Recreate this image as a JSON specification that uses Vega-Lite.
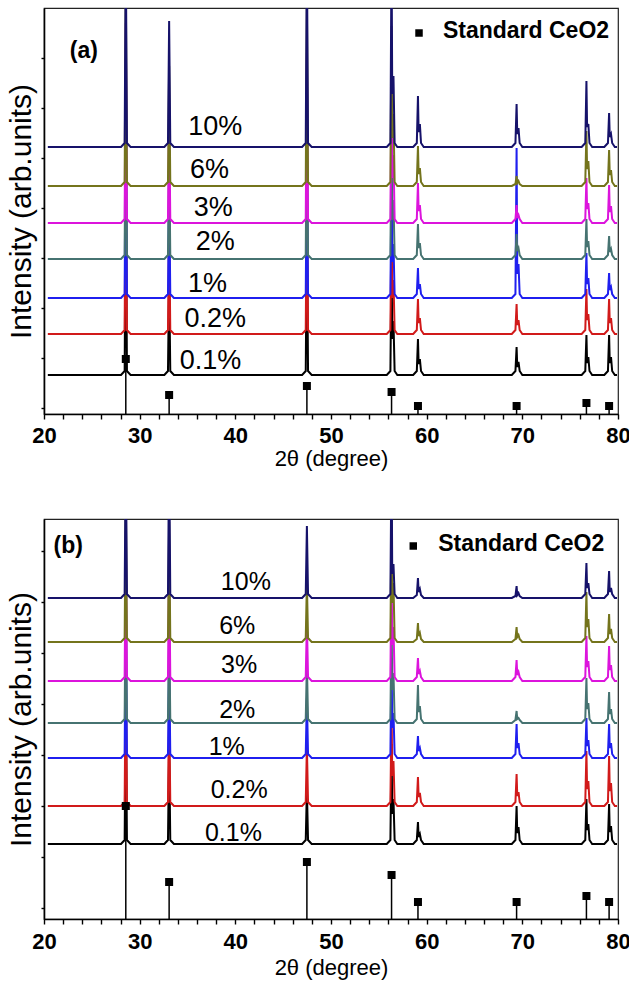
{
"$schema":"https://vega.github.io/schema/vega-lite/v6.json",
"padding":{"left":5,"top":7,"right":5,"bottom":5},
"spacing":48,
"config":{"font":"Liberation Sans","view":{"stroke":"#222","strokeWidth":1.2},
"axis":{"grid":false,"domainColor":"#000","domainWidth":1.6,"tickColor":"#000","tickWidth":1.4,"labelColor":"#000","titleColor":"#000"}},
"datasets":{
"a":[
{"s":"0.1%","x":20.4,"y":39},{"s":"0.1%","x":28.05,"y":39},{"s":"0.1%","x":28.43,"y":43},{"s":"0.1%","x":28.55,"y":239},{"s":"0.1%","x":28.67,"y":43},{"s":"0.1%","x":29.05,"y":39},{"s":"0.1%","x":32.58,"y":39},{"s":"0.1%","x":32.96,"y":43},{"s":"0.1%","x":33.08,"y":139},{"s":"0.1%","x":33.2,"y":43},{"s":"0.1%","x":33.58,"y":39},{"s":"0.1%","x":46.98,"y":39},{"s":"0.1%","x":47.36,"y":43},{"s":"0.1%","x":47.48,"y":189},{"s":"0.1%","x":47.6,"y":43},{"s":"0.1%","x":47.98,"y":39},{"s":"0.1%","x":55.83,"y":39},{"s":"0.1%","x":56.21,"y":43},{"s":"0.1%","x":56.33,"y":159},{"s":"0.1%","x":56.4,"y":75},{"s":"0.1%","x":56.53,"y":93},{"s":"0.1%","x":56.65,"y":43},{"s":"0.1%","x":56.93,"y":39},{"s":"0.1%","x":58.59,"y":39},{"s":"0.1%","x":58.97,"y":43},{"s":"0.1%","x":59.09,"y":75},{"s":"0.1%","x":59.16,"y":50},{"s":"0.1%","x":59.29,"y":55},{"s":"0.1%","x":59.41,"y":43},{"s":"0.1%","x":59.69,"y":39},{"s":"0.1%","x":68.9,"y":39},{"s":"0.1%","x":69.28,"y":43},{"s":"0.1%","x":69.4,"y":67},{"s":"0.1%","x":69.47,"y":47},{"s":"0.1%","x":69.6,"y":52},{"s":"0.1%","x":69.72,"y":43},{"s":"0.1%","x":70,"y":39},{"s":"0.1%","x":76.2,"y":39},{"s":"0.1%","x":76.58,"y":43},{"s":"0.1%","x":76.7,"y":79},{"s":"0.1%","x":76.77,"y":51},{"s":"0.1%","x":76.9,"y":57},{"s":"0.1%","x":77.02,"y":43},{"s":"0.1%","x":77.3,"y":39},{"s":"0.1%","x":78.57,"y":39},{"s":"0.1%","x":78.95,"y":43},{"s":"0.1%","x":79.07,"y":79},{"s":"0.1%","x":79.14,"y":51},{"s":"0.1%","x":79.27,"y":57},{"s":"0.1%","x":79.39,"y":43},{"s":"0.1%","x":79.67,"y":39},{"s":"0.1%","x":79.9,"y":39},
{"s":"0.2%","x":20.4,"y":80},{"s":"0.2%","x":28.05,"y":80},{"s":"0.2%","x":28.43,"y":84},{"s":"0.2%","x":28.55,"y":280},{"s":"0.2%","x":28.67,"y":84},{"s":"0.2%","x":29.05,"y":80},{"s":"0.2%","x":32.58,"y":80},{"s":"0.2%","x":32.96,"y":84},{"s":"0.2%","x":33.08,"y":190},{"s":"0.2%","x":33.2,"y":84},{"s":"0.2%","x":33.58,"y":80},{"s":"0.2%","x":46.98,"y":80},{"s":"0.2%","x":47.36,"y":84},{"s":"0.2%","x":47.48,"y":230},{"s":"0.2%","x":47.6,"y":84},{"s":"0.2%","x":47.98,"y":80},{"s":"0.2%","x":55.83,"y":80},{"s":"0.2%","x":56.21,"y":84},{"s":"0.2%","x":56.33,"y":200},{"s":"0.2%","x":56.4,"y":116},{"s":"0.2%","x":56.53,"y":134},{"s":"0.2%","x":56.65,"y":84},{"s":"0.2%","x":56.93,"y":80},{"s":"0.2%","x":58.59,"y":80},{"s":"0.2%","x":58.97,"y":84},{"s":"0.2%","x":59.09,"y":115},{"s":"0.2%","x":59.16,"y":91},{"s":"0.2%","x":59.29,"y":96},{"s":"0.2%","x":59.41,"y":84},{"s":"0.2%","x":59.69,"y":80},{"s":"0.2%","x":68.9,"y":80},{"s":"0.2%","x":69.28,"y":84},{"s":"0.2%","x":69.4,"y":110},{"s":"0.2%","x":69.47,"y":89},{"s":"0.2%","x":69.6,"y":94},{"s":"0.2%","x":69.72,"y":84},{"s":"0.2%","x":70,"y":80},{"s":"0.2%","x":76.2,"y":80},{"s":"0.2%","x":76.58,"y":84},{"s":"0.2%","x":76.7,"y":125},{"s":"0.2%","x":76.77,"y":94},{"s":"0.2%","x":76.9,"y":100},{"s":"0.2%","x":77.02,"y":84},{"s":"0.2%","x":77.3,"y":80},{"s":"0.2%","x":78.57,"y":80},{"s":"0.2%","x":78.95,"y":84},{"s":"0.2%","x":79.07,"y":115},{"s":"0.2%","x":79.14,"y":91},{"s":"0.2%","x":79.27,"y":96},{"s":"0.2%","x":79.39,"y":84},{"s":"0.2%","x":79.67,"y":80},{"s":"0.2%","x":79.9,"y":80},
{"s":"1%","x":20.4,"y":116},{"s":"1%","x":28.05,"y":116},{"s":"1%","x":28.43,"y":120},{"s":"1%","x":28.55,"y":316},{"s":"1%","x":28.67,"y":120},{"s":"1%","x":29.05,"y":116},{"s":"1%","x":32.58,"y":116},{"s":"1%","x":32.96,"y":120},{"s":"1%","x":33.08,"y":226},{"s":"1%","x":33.2,"y":120},{"s":"1%","x":33.58,"y":116},{"s":"1%","x":46.98,"y":116},{"s":"1%","x":47.36,"y":120},{"s":"1%","x":47.48,"y":266},{"s":"1%","x":47.6,"y":120},{"s":"1%","x":47.98,"y":116},{"s":"1%","x":55.83,"y":116},{"s":"1%","x":56.21,"y":120},{"s":"1%","x":56.33,"y":236},{"s":"1%","x":56.4,"y":152},{"s":"1%","x":56.53,"y":170},{"s":"1%","x":56.65,"y":120},{"s":"1%","x":56.93,"y":116},{"s":"1%","x":58.59,"y":116},{"s":"1%","x":58.97,"y":120},{"s":"1%","x":59.09,"y":146},{"s":"1%","x":59.16,"y":125},{"s":"1%","x":59.29,"y":130},{"s":"1%","x":59.41,"y":120},{"s":"1%","x":59.69,"y":116},{"s":"1%","x":68.9,"y":116},{"s":"1%","x":69.28,"y":120},{"s":"1%","x":69.4,"y":266},{"s":"1%","x":69.47,"y":140},{"s":"1%","x":69.6,"y":150},{"s":"1%","x":69.72,"y":120},{"s":"1%","x":70,"y":116},{"s":"1%","x":76.2,"y":116},{"s":"1%","x":76.58,"y":120},{"s":"1%","x":76.7,"y":161},{"s":"1%","x":76.77,"y":130},{"s":"1%","x":76.9,"y":136},{"s":"1%","x":77.02,"y":120},{"s":"1%","x":77.3,"y":116},{"s":"1%","x":78.57,"y":116},{"s":"1%","x":78.95,"y":120},{"s":"1%","x":79.07,"y":141},{"s":"1%","x":79.14,"y":124},{"s":"1%","x":79.27,"y":127},{"s":"1%","x":79.39,"y":120},{"s":"1%","x":79.67,"y":116},{"s":"1%","x":79.9,"y":116},
{"s":"2%","x":20.4,"y":155},{"s":"2%","x":28.05,"y":155},{"s":"2%","x":28.43,"y":159},{"s":"2%","x":28.55,"y":355},{"s":"2%","x":28.67,"y":159},{"s":"2%","x":29.05,"y":155},{"s":"2%","x":32.58,"y":155},{"s":"2%","x":32.96,"y":159},{"s":"2%","x":33.08,"y":265},{"s":"2%","x":33.2,"y":159},{"s":"2%","x":33.58,"y":155},{"s":"2%","x":46.98,"y":155},{"s":"2%","x":47.36,"y":159},{"s":"2%","x":47.48,"y":315},{"s":"2%","x":47.6,"y":159},{"s":"2%","x":47.98,"y":155},{"s":"2%","x":55.83,"y":155},{"s":"2%","x":56.21,"y":159},{"s":"2%","x":56.33,"y":285},{"s":"2%","x":56.4,"y":194},{"s":"2%","x":56.53,"y":214},{"s":"2%","x":56.65,"y":159},{"s":"2%","x":56.93,"y":155},{"s":"2%","x":58.59,"y":155},{"s":"2%","x":58.97,"y":159},{"s":"2%","x":59.09,"y":190},{"s":"2%","x":59.16,"y":166},{"s":"2%","x":59.29,"y":171},{"s":"2%","x":59.41,"y":159},{"s":"2%","x":59.69,"y":155},{"s":"2%","x":68.9,"y":155},{"s":"2%","x":69.28,"y":159},{"s":"2%","x":69.4,"y":180},{"s":"2%","x":69.47,"y":163},{"s":"2%","x":69.6,"y":166},{"s":"2%","x":69.72,"y":159},{"s":"2%","x":70,"y":155},{"s":"2%","x":76.2,"y":155},{"s":"2%","x":76.58,"y":159},{"s":"2%","x":76.7,"y":195},{"s":"2%","x":76.77,"y":167},{"s":"2%","x":76.9,"y":173},{"s":"2%","x":77.02,"y":159},{"s":"2%","x":77.3,"y":155},{"s":"2%","x":78.57,"y":155},{"s":"2%","x":78.95,"y":159},{"s":"2%","x":79.07,"y":178},{"s":"2%","x":79.14,"y":162},{"s":"2%","x":79.27,"y":165},{"s":"2%","x":79.39,"y":159},{"s":"2%","x":79.67,"y":155},{"s":"2%","x":79.9,"y":155},
{"s":"3%","x":20.4,"y":191},{"s":"3%","x":28.05,"y":191},{"s":"3%","x":28.43,"y":195},{"s":"3%","x":28.55,"y":391},{"s":"3%","x":28.67,"y":195},{"s":"3%","x":29.05,"y":191},{"s":"3%","x":32.58,"y":191},{"s":"3%","x":32.96,"y":195},{"s":"3%","x":33.08,"y":301},{"s":"3%","x":33.2,"y":195},{"s":"3%","x":33.58,"y":191},{"s":"3%","x":46.98,"y":191},{"s":"3%","x":47.36,"y":195},{"s":"3%","x":47.48,"y":361},{"s":"3%","x":47.6,"y":195},{"s":"3%","x":47.98,"y":191},{"s":"3%","x":55.83,"y":191},{"s":"3%","x":56.21,"y":195},{"s":"3%","x":56.33,"y":341},{"s":"3%","x":56.4,"y":236},{"s":"3%","x":56.53,"y":259},{"s":"3%","x":56.65,"y":195},{"s":"3%","x":56.93,"y":191},{"s":"3%","x":58.59,"y":191},{"s":"3%","x":58.97,"y":195},{"s":"3%","x":59.09,"y":231},{"s":"3%","x":59.16,"y":203},{"s":"3%","x":59.29,"y":209},{"s":"3%","x":59.41,"y":195},{"s":"3%","x":59.69,"y":191},{"s":"3%","x":68.9,"y":191},{"s":"3%","x":69.28,"y":195},{"s":"3%","x":69.4,"y":209},{"s":"3%","x":69.47,"y":196},{"s":"3%","x":69.6,"y":199},{"s":"3%","x":69.72,"y":195},{"s":"3%","x":70,"y":191},{"s":"3%","x":76.2,"y":191},{"s":"3%","x":76.58,"y":195},{"s":"3%","x":76.7,"y":236},{"s":"3%","x":76.77,"y":205},{"s":"3%","x":76.9,"y":211},{"s":"3%","x":77.02,"y":195},{"s":"3%","x":77.3,"y":191},{"s":"3%","x":78.57,"y":191},{"s":"3%","x":78.95,"y":195},{"s":"3%","x":79.07,"y":229},{"s":"3%","x":79.14,"y":202},{"s":"3%","x":79.27,"y":208},{"s":"3%","x":79.39,"y":195},{"s":"3%","x":79.67,"y":191},{"s":"3%","x":79.9,"y":191},
{"s":"6%","x":20.4,"y":228},{"s":"6%","x":28.05,"y":228},{"s":"6%","x":28.43,"y":232},{"s":"6%","x":28.55,"y":428},{"s":"6%","x":28.67,"y":232},{"s":"6%","x":29.05,"y":228},{"s":"6%","x":32.58,"y":228},{"s":"6%","x":32.96,"y":232},{"s":"6%","x":33.08,"y":348},{"s":"6%","x":33.2,"y":232},{"s":"6%","x":33.58,"y":228},{"s":"6%","x":46.98,"y":228},{"s":"6%","x":47.36,"y":232},{"s":"6%","x":47.48,"y":408},{"s":"6%","x":47.6,"y":232},{"s":"6%","x":47.98,"y":228},{"s":"6%","x":55.83,"y":228},{"s":"6%","x":56.21,"y":232},{"s":"6%","x":56.33,"y":388},{"s":"6%","x":56.4,"y":276},{"s":"6%","x":56.53,"y":300},{"s":"6%","x":56.65,"y":232},{"s":"6%","x":56.93,"y":228},{"s":"6%","x":58.59,"y":228},{"s":"6%","x":58.97,"y":232},{"s":"6%","x":59.09,"y":268},{"s":"6%","x":59.16,"y":240},{"s":"6%","x":59.29,"y":246},{"s":"6%","x":59.41,"y":232},{"s":"6%","x":59.69,"y":228},{"s":"6%","x":68.9,"y":228},{"s":"6%","x":69.28,"y":230},{"s":"6%","x":69.4,"y":238},{"s":"6%","x":69.47,"y":231},{"s":"6%","x":69.6,"y":233},{"s":"6%","x":69.72,"y":230},{"s":"6%","x":70,"y":228},{"s":"6%","x":76.2,"y":228},{"s":"6%","x":76.58,"y":232},{"s":"6%","x":76.7,"y":283},{"s":"6%","x":76.77,"y":245},{"s":"6%","x":76.9,"y":253},{"s":"6%","x":77.02,"y":232},{"s":"6%","x":77.3,"y":228},{"s":"6%","x":78.57,"y":228},{"s":"6%","x":78.95,"y":232},{"s":"6%","x":79.07,"y":264},{"s":"6%","x":79.14,"y":239},{"s":"6%","x":79.27,"y":244},{"s":"6%","x":79.39,"y":232},{"s":"6%","x":79.67,"y":228},{"s":"6%","x":79.9,"y":228},
{"s":"10%","x":20.4,"y":267},{"s":"10%","x":28.05,"y":267},{"s":"10%","x":28.43,"y":271},{"s":"10%","x":28.55,"y":467},{"s":"10%","x":28.67,"y":271},{"s":"10%","x":29.05,"y":267},{"s":"10%","x":32.58,"y":267},{"s":"10%","x":32.96,"y":271},{"s":"10%","x":33.08,"y":393},{"s":"10%","x":33.2,"y":271},{"s":"10%","x":33.58,"y":267},{"s":"10%","x":46.98,"y":267},{"s":"10%","x":47.36,"y":271},{"s":"10%","x":47.48,"y":467},{"s":"10%","x":47.6,"y":271},{"s":"10%","x":47.98,"y":267},{"s":"10%","x":55.83,"y":267},{"s":"10%","x":56.21,"y":271},{"s":"10%","x":56.33,"y":467},{"s":"10%","x":56.4,"y":320},{"s":"10%","x":56.53,"y":338},{"s":"10%","x":56.65,"y":271},{"s":"10%","x":56.93,"y":267},{"s":"10%","x":58.59,"y":267},{"s":"10%","x":58.97,"y":271},{"s":"10%","x":59.09,"y":318},{"s":"10%","x":59.16,"y":282},{"s":"10%","x":59.29,"y":290},{"s":"10%","x":59.41,"y":271},{"s":"10%","x":59.69,"y":267},{"s":"10%","x":68.9,"y":267},{"s":"10%","x":69.28,"y":271},{"s":"10%","x":69.4,"y":310},{"s":"10%","x":69.47,"y":280},{"s":"10%","x":69.6,"y":286},{"s":"10%","x":69.72,"y":271},{"s":"10%","x":70,"y":267},{"s":"10%","x":76.2,"y":267},{"s":"10%","x":76.58,"y":271},{"s":"10%","x":76.7,"y":333},{"s":"10%","x":76.77,"y":287},{"s":"10%","x":76.9,"y":290},{"s":"10%","x":77.02,"y":271},{"s":"10%","x":77.3,"y":267},{"s":"10%","x":78.57,"y":267},{"s":"10%","x":78.95,"y":271},{"s":"10%","x":79.07,"y":301},{"s":"10%","x":79.14,"y":277},{"s":"10%","x":79.27,"y":280},{"s":"10%","x":79.39,"y":271},{"s":"10%","x":79.67,"y":267},{"s":"10%","x":79.9,"y":267}
],
"b":[
{"s":"0.1%","x":20.4,"y":75},{"s":"0.1%","x":28.05,"y":75},{"s":"0.1%","x":28.43,"y":79},{"s":"0.1%","x":28.55,"y":225},{"s":"0.1%","x":28.67,"y":79},{"s":"0.1%","x":29.05,"y":75},{"s":"0.1%","x":32.58,"y":75},{"s":"0.1%","x":32.96,"y":79},{"s":"0.1%","x":33.08,"y":175},{"s":"0.1%","x":33.2,"y":79},{"s":"0.1%","x":33.58,"y":75},{"s":"0.1%","x":46.98,"y":75},{"s":"0.1%","x":47.36,"y":79},{"s":"0.1%","x":47.48,"y":130},{"s":"0.1%","x":47.6,"y":79},{"s":"0.1%","x":47.98,"y":75},{"s":"0.1%","x":55.83,"y":75},{"s":"0.1%","x":56.21,"y":79},{"s":"0.1%","x":56.33,"y":175},{"s":"0.1%","x":56.4,"y":105},{"s":"0.1%","x":56.53,"y":120},{"s":"0.1%","x":56.65,"y":79},{"s":"0.1%","x":56.93,"y":75},{"s":"0.1%","x":58.59,"y":75},{"s":"0.1%","x":58.97,"y":79},{"s":"0.1%","x":59.09,"y":97},{"s":"0.1%","x":59.16,"y":82},{"s":"0.1%","x":59.29,"y":85},{"s":"0.1%","x":59.41,"y":79},{"s":"0.1%","x":59.69,"y":75},{"s":"0.1%","x":68.9,"y":75},{"s":"0.1%","x":69.28,"y":79},{"s":"0.1%","x":69.4,"y":113},{"s":"0.1%","x":69.47,"y":86},{"s":"0.1%","x":69.6,"y":92},{"s":"0.1%","x":69.72,"y":79},{"s":"0.1%","x":70,"y":75},{"s":"0.1%","x":76.2,"y":75},{"s":"0.1%","x":76.58,"y":79},{"s":"0.1%","x":76.7,"y":120},{"s":"0.1%","x":76.77,"y":89},{"s":"0.1%","x":76.9,"y":95},{"s":"0.1%","x":77.02,"y":79},{"s":"0.1%","x":77.3,"y":75},{"s":"0.1%","x":78.57,"y":75},{"s":"0.1%","x":78.95,"y":79},{"s":"0.1%","x":79.07,"y":115},{"s":"0.1%","x":79.14,"y":87},{"s":"0.1%","x":79.27,"y":93},{"s":"0.1%","x":79.39,"y":79},{"s":"0.1%","x":79.67,"y":75},{"s":"0.1%","x":79.9,"y":75},
{"s":"0.2%","x":20.4,"y":113},{"s":"0.2%","x":28.05,"y":113},{"s":"0.2%","x":28.43,"y":117},{"s":"0.2%","x":28.55,"y":263},{"s":"0.2%","x":28.67,"y":117},{"s":"0.2%","x":29.05,"y":113},{"s":"0.2%","x":32.58,"y":113},{"s":"0.2%","x":32.96,"y":117},{"s":"0.2%","x":33.08,"y":213},{"s":"0.2%","x":33.2,"y":117},{"s":"0.2%","x":33.58,"y":113},{"s":"0.2%","x":46.98,"y":113},{"s":"0.2%","x":47.36,"y":117},{"s":"0.2%","x":47.48,"y":173},{"s":"0.2%","x":47.6,"y":117},{"s":"0.2%","x":47.98,"y":113},{"s":"0.2%","x":55.83,"y":113},{"s":"0.2%","x":56.21,"y":117},{"s":"0.2%","x":56.33,"y":213},{"s":"0.2%","x":56.4,"y":143},{"s":"0.2%","x":56.53,"y":158},{"s":"0.2%","x":56.65,"y":117},{"s":"0.2%","x":56.93,"y":113},{"s":"0.2%","x":58.59,"y":113},{"s":"0.2%","x":58.97,"y":117},{"s":"0.2%","x":59.09,"y":142},{"s":"0.2%","x":59.16,"y":122},{"s":"0.2%","x":59.29,"y":126},{"s":"0.2%","x":59.41,"y":117},{"s":"0.2%","x":59.69,"y":113},{"s":"0.2%","x":68.9,"y":113},{"s":"0.2%","x":69.28,"y":117},{"s":"0.2%","x":69.4,"y":145},{"s":"0.2%","x":69.47,"y":123},{"s":"0.2%","x":69.6,"y":127},{"s":"0.2%","x":69.72,"y":117},{"s":"0.2%","x":70,"y":113},{"s":"0.2%","x":76.2,"y":113},{"s":"0.2%","x":76.58,"y":117},{"s":"0.2%","x":76.7,"y":168},{"s":"0.2%","x":76.77,"y":130},{"s":"0.2%","x":76.9,"y":138},{"s":"0.2%","x":77.02,"y":117},{"s":"0.2%","x":77.3,"y":113},{"s":"0.2%","x":78.57,"y":113},{"s":"0.2%","x":78.95,"y":117},{"s":"0.2%","x":79.07,"y":163},{"s":"0.2%","x":79.14,"y":128},{"s":"0.2%","x":79.27,"y":136},{"s":"0.2%","x":79.39,"y":117},{"s":"0.2%","x":79.67,"y":113},{"s":"0.2%","x":79.9,"y":113},
{"s":"1%","x":20.4,"y":161},{"s":"1%","x":28.05,"y":161},{"s":"1%","x":28.43,"y":165},{"s":"1%","x":28.55,"y":311},{"s":"1%","x":28.67,"y":165},{"s":"1%","x":29.05,"y":161},{"s":"1%","x":32.58,"y":161},{"s":"1%","x":32.96,"y":165},{"s":"1%","x":33.08,"y":261},{"s":"1%","x":33.2,"y":165},{"s":"1%","x":33.58,"y":161},{"s":"1%","x":46.98,"y":161},{"s":"1%","x":47.36,"y":165},{"s":"1%","x":47.48,"y":221},{"s":"1%","x":47.6,"y":165},{"s":"1%","x":47.98,"y":161},{"s":"1%","x":55.83,"y":161},{"s":"1%","x":56.21,"y":165},{"s":"1%","x":56.33,"y":261},{"s":"1%","x":56.4,"y":191},{"s":"1%","x":56.53,"y":206},{"s":"1%","x":56.65,"y":165},{"s":"1%","x":56.93,"y":161},{"s":"1%","x":58.59,"y":161},{"s":"1%","x":58.97,"y":165},{"s":"1%","x":59.09,"y":183},{"s":"1%","x":59.16,"y":168},{"s":"1%","x":59.29,"y":171},{"s":"1%","x":59.41,"y":165},{"s":"1%","x":59.69,"y":161},{"s":"1%","x":68.9,"y":161},{"s":"1%","x":69.28,"y":165},{"s":"1%","x":69.4,"y":195},{"s":"1%","x":69.47,"y":171},{"s":"1%","x":69.6,"y":176},{"s":"1%","x":69.72,"y":165},{"s":"1%","x":70,"y":161},{"s":"1%","x":76.2,"y":161},{"s":"1%","x":76.58,"y":165},{"s":"1%","x":76.7,"y":201},{"s":"1%","x":76.77,"y":173},{"s":"1%","x":76.9,"y":179},{"s":"1%","x":77.02,"y":165},{"s":"1%","x":77.3,"y":161},{"s":"1%","x":78.57,"y":161},{"s":"1%","x":78.95,"y":165},{"s":"1%","x":79.07,"y":195},{"s":"1%","x":79.14,"y":171},{"s":"1%","x":79.27,"y":176},{"s":"1%","x":79.39,"y":165},{"s":"1%","x":79.67,"y":161},{"s":"1%","x":79.9,"y":161},
{"s":"2%","x":20.4,"y":196},{"s":"2%","x":28.05,"y":196},{"s":"2%","x":28.43,"y":200},{"s":"2%","x":28.55,"y":346},{"s":"2%","x":28.67,"y":200},{"s":"2%","x":29.05,"y":196},{"s":"2%","x":32.58,"y":196},{"s":"2%","x":32.96,"y":200},{"s":"2%","x":33.08,"y":296},{"s":"2%","x":33.2,"y":200},{"s":"2%","x":33.58,"y":196},{"s":"2%","x":46.98,"y":196},{"s":"2%","x":47.36,"y":200},{"s":"2%","x":47.48,"y":256},{"s":"2%","x":47.6,"y":200},{"s":"2%","x":47.98,"y":196},{"s":"2%","x":55.83,"y":196},{"s":"2%","x":56.21,"y":200},{"s":"2%","x":56.33,"y":306},{"s":"2%","x":56.4,"y":229},{"s":"2%","x":56.53,"y":246},{"s":"2%","x":56.65,"y":200},{"s":"2%","x":56.93,"y":196},{"s":"2%","x":58.59,"y":196},{"s":"2%","x":58.97,"y":200},{"s":"2%","x":59.09,"y":234},{"s":"2%","x":59.16,"y":207},{"s":"2%","x":59.29,"y":213},{"s":"2%","x":59.41,"y":200},{"s":"2%","x":59.69,"y":196},{"s":"2%","x":68.9,"y":196},{"s":"2%","x":69.28,"y":199},{"s":"2%","x":69.4,"y":208},{"s":"2%","x":69.47,"y":200},{"s":"2%","x":69.6,"y":201},{"s":"2%","x":69.72,"y":199},{"s":"2%","x":70,"y":196},{"s":"2%","x":76.2,"y":196},{"s":"2%","x":76.58,"y":200},{"s":"2%","x":76.7,"y":241},{"s":"2%","x":76.77,"y":210},{"s":"2%","x":76.9,"y":216},{"s":"2%","x":77.02,"y":200},{"s":"2%","x":77.3,"y":196},{"s":"2%","x":78.57,"y":196},{"s":"2%","x":78.95,"y":200},{"s":"2%","x":79.07,"y":227},{"s":"2%","x":79.14,"y":205},{"s":"2%","x":79.27,"y":210},{"s":"2%","x":79.39,"y":200},{"s":"2%","x":79.67,"y":196},{"s":"2%","x":79.9,"y":196},
{"s":"3%","x":20.4,"y":238},{"s":"3%","x":28.05,"y":238},{"s":"3%","x":28.43,"y":242},{"s":"3%","x":28.55,"y":388},{"s":"3%","x":28.67,"y":242},{"s":"3%","x":29.05,"y":238},{"s":"3%","x":32.58,"y":238},{"s":"3%","x":32.96,"y":242},{"s":"3%","x":33.08,"y":358},{"s":"3%","x":33.2,"y":242},{"s":"3%","x":33.58,"y":238},{"s":"3%","x":46.98,"y":238},{"s":"3%","x":47.36,"y":242},{"s":"3%","x":47.48,"y":298},{"s":"3%","x":47.6,"y":242},{"s":"3%","x":47.98,"y":238},{"s":"3%","x":55.83,"y":238},{"s":"3%","x":56.21,"y":242},{"s":"3%","x":56.33,"y":358},{"s":"3%","x":56.4,"y":274},{"s":"3%","x":56.53,"y":292},{"s":"3%","x":56.65,"y":242},{"s":"3%","x":56.93,"y":238},{"s":"3%","x":58.59,"y":238},{"s":"3%","x":58.97,"y":242},{"s":"3%","x":59.09,"y":261},{"s":"3%","x":59.16,"y":245},{"s":"3%","x":59.29,"y":248},{"s":"3%","x":59.41,"y":242},{"s":"3%","x":59.69,"y":238},{"s":"3%","x":68.9,"y":238},{"s":"3%","x":69.28,"y":242},{"s":"3%","x":69.4,"y":259},{"s":"3%","x":69.47,"y":244},{"s":"3%","x":69.6,"y":247},{"s":"3%","x":69.72,"y":242},{"s":"3%","x":70,"y":238},{"s":"3%","x":76.2,"y":238},{"s":"3%","x":76.58,"y":242},{"s":"3%","x":76.7,"y":283},{"s":"3%","x":76.77,"y":252},{"s":"3%","x":76.9,"y":258},{"s":"3%","x":77.02,"y":242},{"s":"3%","x":77.3,"y":238},{"s":"3%","x":78.57,"y":238},{"s":"3%","x":78.95,"y":242},{"s":"3%","x":79.07,"y":273},{"s":"3%","x":79.14,"y":249},{"s":"3%","x":79.27,"y":254},{"s":"3%","x":79.39,"y":242},{"s":"3%","x":79.67,"y":238},{"s":"3%","x":79.9,"y":238},
{"s":"6%","x":20.4,"y":277},{"s":"6%","x":28.05,"y":277},{"s":"6%","x":28.43,"y":281},{"s":"6%","x":28.55,"y":427},{"s":"6%","x":28.67,"y":281},{"s":"6%","x":29.05,"y":277},{"s":"6%","x":32.58,"y":277},{"s":"6%","x":32.96,"y":281},{"s":"6%","x":33.08,"y":397},{"s":"6%","x":33.2,"y":281},{"s":"6%","x":33.58,"y":277},{"s":"6%","x":46.98,"y":277},{"s":"6%","x":47.36,"y":281},{"s":"6%","x":47.48,"y":337},{"s":"6%","x":47.6,"y":281},{"s":"6%","x":47.98,"y":277},{"s":"6%","x":55.83,"y":277},{"s":"6%","x":56.21,"y":281},{"s":"6%","x":56.33,"y":407},{"s":"6%","x":56.4,"y":316},{"s":"6%","x":56.53,"y":336},{"s":"6%","x":56.65,"y":281},{"s":"6%","x":56.93,"y":277},{"s":"6%","x":58.59,"y":277},{"s":"6%","x":58.97,"y":280},{"s":"6%","x":59.09,"y":296},{"s":"6%","x":59.16,"y":283},{"s":"6%","x":59.29,"y":286},{"s":"6%","x":59.41,"y":280},{"s":"6%","x":59.69,"y":277},{"s":"6%","x":68.9,"y":277},{"s":"6%","x":69.28,"y":280},{"s":"6%","x":69.4,"y":292},{"s":"6%","x":69.47,"y":282},{"s":"6%","x":69.6,"y":284},{"s":"6%","x":69.72,"y":280},{"s":"6%","x":70,"y":277},{"s":"6%","x":76.2,"y":277},{"s":"6%","x":76.58,"y":281},{"s":"6%","x":76.7,"y":327},{"s":"6%","x":76.77,"y":292},{"s":"6%","x":76.9,"y":300},{"s":"6%","x":77.02,"y":281},{"s":"6%","x":77.3,"y":277},{"s":"6%","x":78.57,"y":277},{"s":"6%","x":78.95,"y":281},{"s":"6%","x":79.07,"y":305},{"s":"6%","x":79.14,"y":285},{"s":"6%","x":79.27,"y":290},{"s":"6%","x":79.39,"y":281},{"s":"6%","x":79.67,"y":277},{"s":"6%","x":79.9,"y":277},
{"s":"10%","x":20.4,"y":321},{"s":"10%","x":28.05,"y":321},{"s":"10%","x":28.43,"y":325},{"s":"10%","x":28.55,"y":471},{"s":"10%","x":28.67,"y":325},{"s":"10%","x":29.05,"y":321},{"s":"10%","x":32.58,"y":321},{"s":"10%","x":32.96,"y":325},{"s":"10%","x":33.08,"y":471},{"s":"10%","x":33.2,"y":325},{"s":"10%","x":33.58,"y":321},{"s":"10%","x":46.98,"y":321},{"s":"10%","x":47.36,"y":325},{"s":"10%","x":47.48,"y":393},{"s":"10%","x":47.6,"y":325},{"s":"10%","x":47.98,"y":321},{"s":"10%","x":55.83,"y":321},{"s":"10%","x":56.21,"y":325},{"s":"10%","x":56.33,"y":471},{"s":"10%","x":56.4,"y":345},{"s":"10%","x":56.53,"y":355},{"s":"10%","x":56.65,"y":325},{"s":"10%","x":56.93,"y":321},{"s":"10%","x":58.59,"y":321},{"s":"10%","x":58.97,"y":324},{"s":"10%","x":59.09,"y":341},{"s":"10%","x":59.16,"y":327},{"s":"10%","x":59.29,"y":330},{"s":"10%","x":59.41,"y":324},{"s":"10%","x":59.69,"y":321},{"s":"10%","x":68.9,"y":321},{"s":"10%","x":69.28,"y":323},{"s":"10%","x":69.4,"y":333},{"s":"10%","x":69.47,"y":324},{"s":"10%","x":69.6,"y":326},{"s":"10%","x":69.72,"y":323},{"s":"10%","x":70,"y":321},{"s":"10%","x":76.2,"y":321},{"s":"10%","x":76.58,"y":325},{"s":"10%","x":76.7,"y":356},{"s":"10%","x":76.77,"y":331},{"s":"10%","x":76.9,"y":336},{"s":"10%","x":77.02,"y":325},{"s":"10%","x":77.3,"y":321},{"s":"10%","x":78.57,"y":321},{"s":"10%","x":78.95,"y":325},{"s":"10%","x":79.07,"y":348},{"s":"10%","x":79.14,"y":327},{"s":"10%","x":79.27,"y":331},{"s":"10%","x":79.39,"y":325},{"s":"10%","x":79.67,"y":321},{"s":"10%","x":79.9,"y":321}
],
"stdA":[{"x":28.55,"h":55,"z":0},{"x":33.08,"h":19,"z":0},{"x":47.48,"h":28,"z":0},{"x":56.33,"h":22,"z":0},{"x":59.09,"h":8,"z":0},{"x":69.4,"h":8,"z":0},{"x":76.7,"h":11,"z":0},{"x":79.07,"h":8,"z":0}],
"stdB":[{"x":28.55,"h":113,"z":0},{"x":33.08,"h":37,"z":0},{"x":47.48,"h":57,"z":0},{"x":56.33,"h":44,"z":0},{"x":59.09,"h":17,"z":0},{"x":69.4,"h":17,"z":0},{"x":76.7,"h":23,"z":0},{"x":79.07,"h":17,"z":0}],
"labA":[{"t":"10%","x":37.9,"y":287},{"t":"6%","x":37.3,"y":244},{"t":"3%","x":37.7,"y":206},{"t":"2%","x":37.9,"y":172},{"t":"1%","x":37.1,"y":130},{"t":"0.2%","x":37.9,"y":95},{"t":"0.1%","x":37.4,"y":53}],
"labB":[{"t":"10%","x":41.1,"y":337},{"t":"6%","x":40.2,"y":293},{"t":"3%","x":40.4,"y":254},{"t":"2%","x":40.2,"y":209},{"t":"1%","x":39.1,"y":172},{"t":"0.2%","x":40.4,"y":129},{"t":"0.1%","x":39.8,"y":86}],
"annA":[{"t":"(a)","x":22.7,"y":363},{"t":"Standard CeO2","x":61.7,"y":383}],
"annB":[{"t":"(b)","x":21.0,"y":373},{"t":"Standard CeO2","x":61.2,"y":375}],
"legA":[{"x":59.2,"y":381}],
"legB":[{"x":58.6,"y":373}]
},
"vconcat":[
{"width":574,"height":406,
"resolve":{"axis":{"x":"independent"}},
"layer":[
{"data":{"name":"a"},"mark":{"type":"line","clip":true,"strokeWidth":2},
"encoding":{
"x":{"field":"x","type":"quantitative","scale":{"domain":[20,80],"nice":false,"zero":false},
"axis":{"orient":"bottom","values":[20,30,40,50,60,70,80],"labelFontSize":22,"labelFontWeight":"bold","labelPadding":6,"labelFlush":false,"labelOverlap":false,"tickSize":5,"title":"2θ (degree)","titleFontSize":22,"titleFontWeight":"normal","titlePadding":2}},
"y":{"field":"y","type":"quantitative","scale":{"domain":[0,406],"nice":false,"zero":false},
"axis":{"values":[6,31,56,81,106,131,156,181,206,231,256,281,306,331,356,381],"labels":false,"tickSize":3,"title":"Intensity (arb.units)","titleFontSize":30,"titleFontWeight":"normal","titlePadding":4}},
"color":{"field":"s","type":"nominal","scale":{"domain":["0.1%","0.2%","1%","2%","3%","6%","10%"],"range":["#000000","#d11a1a","#1f1fef","#467371","#dc14dc","#74741c","#16126a"]},"legend":null}}},
{"data":{"name":"stdA"},"mark":{"type":"rule","color":"#000","strokeWidth":1.5},"encoding":{"x":{"field":"x","type":"quantitative","axis":{"orient":"bottom","values":[22,24,26,28,32,34,36,38,42,44,46,48,52,54,56,58,62,64,66,68,72,74,76,78],"labels":false,"domain":false,"title":null,"tickSize":5}},"y":{"field":"h","type":"quantitative"},"y2":{"field":"z"}}},
{"data":{"name":"stdA"},"mark":{"type":"square","color":"#000","filled":true,"opacity":1,"size":64},"encoding":{"x":{"field":"x","type":"quantitative","axis":null},"y":{"field":"h","type":"quantitative"}}},
{"data":{"name":"legA"},"mark":{"type":"square","color":"#000","filled":true,"opacity":1,"size":56},"encoding":{"x":{"field":"x","type":"quantitative","axis":null},"y":{"field":"y","type":"quantitative"}}},
{"data":{"name":"labA"},"mark":{"type":"text","fontSize":27,"align":"center","baseline":"middle","color":"#000"},"encoding":{"x":{"field":"x","type":"quantitative","axis":null},"y":{"field":"y","type":"quantitative"},"text":{"field":"t","type":"nominal"}}},
{"data":{"name":"annA"},"mark":{"type":"text","fontSize":23,"fontWeight":"bold","align":"left","baseline":"middle","color":"#000"},"encoding":{"x":{"field":"x","type":"quantitative","axis":null},"y":{"field":"y","type":"quantitative"},"text":{"field":"t","type":"nominal"}}}
]},
{"width":574,"height":400,
"resolve":{"axis":{"x":"independent"}},
"layer":[
{"data":{"name":"b"},"mark":{"type":"line","clip":true,"strokeWidth":2},
"encoding":{
"x":{"field":"x","type":"quantitative","scale":{"domain":[20,80],"nice":false,"zero":false},
"axis":{"orient":"bottom","values":[20,30,40,50,60,70,80],"labelFontSize":22,"labelFontWeight":"bold","labelPadding":7,"labelFlush":false,"labelOverlap":false,"tickSize":5,"title":"2θ (degree)","titleFontSize":22,"titleFontWeight":"normal","titlePadding":5}},
"y":{"field":"y","type":"quantitative","scale":{"domain":[0,400],"nice":false,"zero":false},
"axis":{"values":[11,62,113,164,215,266,317,368],"labels":false,"tickSize":3,"title":"Intensity (arb.units)","titleFontSize":30,"titleFontWeight":"normal","titlePadding":4}},
"color":{"field":"s","type":"nominal","scale":{"domain":["0.1%","0.2%","1%","2%","3%","6%","10%"],"range":["#000000","#d11a1a","#1f1fef","#467371","#dc14dc","#74741c","#16126a"]},"legend":null}}},
{"data":{"name":"stdB"},"mark":{"type":"rule","color":"#000","strokeWidth":1.5},"encoding":{"x":{"field":"x","type":"quantitative","axis":{"orient":"bottom","values":[22,24,26,28,32,34,36,38,42,44,46,48,52,54,56,58,62,64,66,68,72,74,76,78],"labels":false,"domain":false,"title":null,"tickSize":5}},"y":{"field":"h","type":"quantitative"},"y2":{"field":"z"}}},
{"data":{"name":"stdB"},"mark":{"type":"square","color":"#000","filled":true,"opacity":1,"size":64},"encoding":{"x":{"field":"x","type":"quantitative","axis":null},"y":{"field":"h","type":"quantitative"}}},
{"data":{"name":"legB"},"mark":{"type":"square","color":"#000","filled":true,"opacity":1,"size":56},"encoding":{"x":{"field":"x","type":"quantitative","axis":null},"y":{"field":"y","type":"quantitative"}}},
{"data":{"name":"labB"},"mark":{"type":"text","fontSize":25,"align":"center","baseline":"middle","color":"#000"},"encoding":{"x":{"field":"x","type":"quantitative","axis":null},"y":{"field":"y","type":"quantitative"},"text":{"field":"t","type":"nominal"}}},
{"data":{"name":"annB"},"mark":{"type":"text","fontSize":23,"fontWeight":"bold","align":"left","baseline":"middle","color":"#000"},"encoding":{"x":{"field":"x","type":"quantitative","axis":null},"y":{"field":"y","type":"quantitative"},"text":{"field":"t","type":"nominal"}}}
]}
]
}
